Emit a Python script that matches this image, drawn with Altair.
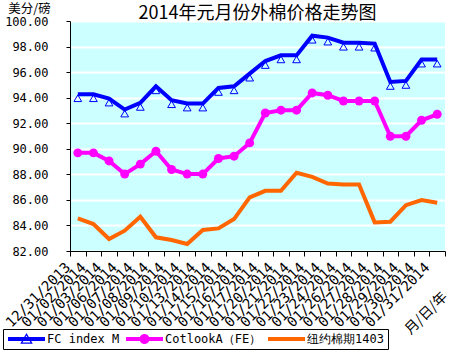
import altair as alt
import pandas as pd

dates = ["12/31/2013", "01/02/2014", "01/03/2014", "01/06/2014", "01/07/2014",
         "01/08/2014", "01/09/2014", "01/10/2014", "01/13/2014", "01/14/2014",
         "01/15/2014", "01/16/2014", "01/17/2014", "01/20/2014", "01/21/2014",
         "01/22/2014", "01/23/2014", "01/24/2014", "01/26/2014", "01/27/2014",
         "01/28/2014", "01/29/2014", "01/30/2014", "01/31/2014"]

fc_index = [94.27, 94.27, 93.93, 93.07, 93.59, 94.89, 93.80, 93.54, 93.54, 94.76,
            94.89, 95.88, 96.87, 97.31, 97.31, 98.85, 98.70, 98.30, 98.30, 98.23,
            95.23, 95.31, 96.98, 96.98]
cotlook = [89.68, 89.68, 89.05, 88.02, 88.80, 89.81, 88.38, 88.02, 88.02, 89.24,
           89.42, 90.46, 92.80, 93.02, 93.02, 94.37, 94.19, 93.74, 93.74, 93.74,
           90.98, 90.98, 92.23, 92.70]
nybot = [84.55, 84.11, 82.94, 83.59, 84.68, 83.07, 82.86, 82.55, 83.64, 83.77,
         84.50, 86.20, 86.71, 86.71, 88.12, 87.80, 87.28, 87.20, 87.20, 84.24,
         84.29, 85.59, 85.98, 85.77]

series = ["FC index M", "CotlookA（FE）", "纽约棉期1403"]
colors = ["#0000FF", "#FF00FF", "#FF6600"]
y_ticks = [82, 84, 86, 88, 90, 92, 94, 96, 98, 100]

rows = []
for name, vals in zip(series, [fc_index, cotlook, nybot]):
    for d, v in zip(dates, vals):
        rows.append({"date": d, "value": v, "series": name})
df = pd.DataFrame(rows)

# legend symbol paths (unit = sqrt(size)/2 px)
tri_path = ("M-1,-0.4H6.4V0.4H-1Z"
            "M2.7,-1.2L3.95,0.95L1.45,0.95Z"
            "M2.7,-0.7L1.9,0.7L3.5,0.7Z")
circ_path = ("M-1,-0.4H6.4V0.4H-1Z"
             "M1.7,0A1,1 0 1,1 3.7,0A1,1 0 1,1 1.7,0Z")
line_path = "M-1,-0.4H6.4V0.4H-1Z"

x_enc = alt.X("date:N", sort=dates,
              scale=alt.Scale(domain=dates, paddingInner=0, paddingOuter=0),
              axis=alt.Axis(title="月/日/年", titleAngle=315, titleX=356, titleY=62,
                            titleAlign="center", titleBaseline="middle",
                            titleFont="Noto Sans CJK SC", titleFontSize=14,
                            titleFontWeight="normal", titleColor="black",
                            labelAngle=315, labelAlign="right", labelBaseline="middle",
                            labelFont="DejaVu Sans Mono", labelFontSize=14,
                            labelColor="black", labelPadding=9, labelOffset=-10,
                            labelOverlap=False, tickBand="extent", tickSize=5,
                            tickColor="black", domainColor="black", grid=False))
y_enc = alt.Y("value:Q",
              scale=alt.Scale(domain=[82, 100], nice=False, zero=False),
              axis=alt.Axis(values=y_ticks, format=".2f", title="美分/磅",
                            titleAngle=0, titleX=-41, titleY=-13,
                            titleAlign="center", titleBaseline="middle",
                            titleFont="Noto Sans CJK SC", titleFontSize=12.5,
                            titleFontWeight="normal", titleColor="black",
                            labelFont="DejaVu Sans Mono", labelFontSize=12,
                            labelColor="black", labelPadding=18, tickSize=4,
                            tickColor="black", domainColor="black",
                            grid=True, gridColor="white", gridWidth=2))

color_scale = alt.Scale(domain=series, range=colors)

base = alt.Chart(df)

tris = base.transform_filter(alt.datum.series == series[0]).mark_point(
    shape="triangle-up", filled=False, stroke="#0000FF", strokeWidth=1,
    size=60, yOffset=4, opacity=1).encode(x=x_enc, y=y_enc)

line_layers = [
    base.transform_filter(alt.datum.series == s).mark_line(strokeWidth=4, color=c)
    .encode(x=x_enc, y=y_enc)
    for s, c in zip(series, colors)
]

circles = base.transform_filter(alt.datum.series == series[1]).mark_point(
    shape="circle", filled=True, color="#FF00FF", size=80, opacity=1).encode(
    x=x_enc, y=y_enc)

legend = alt.Legend(orient="none", legendX=-67, legendY=308, direction="horizontal",
                    columns=3, title=None, symbolSize=100, symbolStrokeWidth=0,
                    symbolOpacity=1, labelFont="DejaVu Sans Mono", labelFontSize=12,
                    labelColor="black", labelOffset=28, labelLimit=300,
                    columnPadding=5, strokeColor="black", fillColor="white",
                    padding=4)

legend_layer = base.mark_point(filled=True, opacity=0).encode(
    x=x_enc, y=y_enc,
    color=alt.Color("series:N", scale=color_scale, legend=legend),
    shape=alt.Shape("series:N", scale=alt.Scale(domain=series,
                                                range=[tri_path, circ_path, line_path]),
                    legend=legend))

chart = alt.layer(tris, *line_layers, circles, legend_layer).properties(
    width=375, height=230,
    autosize=alt.AutoSizeParams(type="none"),
    padding={"left": 70, "top": 21, "right": 5, "bottom": 101},
    background="white",
    title=alt.TitleParams("2014年元月份外棉价格走势图", font="Noto Sans CJK SC",
                          fontSize=18, fontWeight="normal", color="black",
                          anchor="middle", offset=0, dy=21),
).configure_view(fill="#CCFFFF", strokeWidth=0)

chart.save("out.html", embed_options={"renderer": "svg", "actions": False})
